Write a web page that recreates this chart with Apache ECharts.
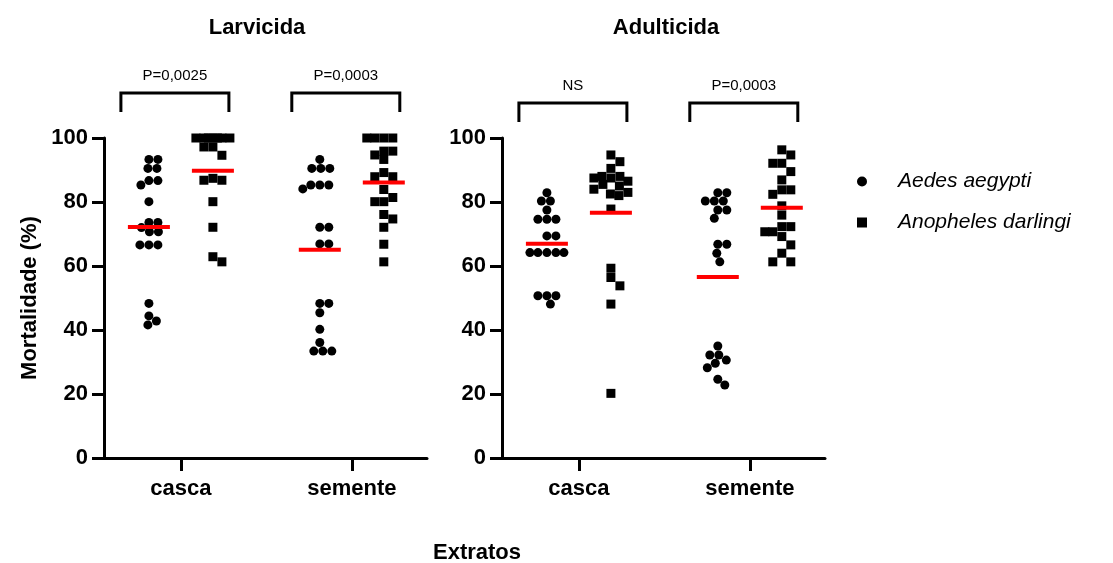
<!DOCTYPE html>
<html><head><meta charset="utf-8">
<script src="https://cdn.jsdelivr.net/npm/echarts@6/dist/echarts.min.js"></script>
<style>html,body{margin:0;padding:0;background:#fff}#c{width:1113px;height:563px}</style>
</head><body><div id="c"></div>
<script>
// ---------- data ----------
const categories = ['casca', 'semente'];
const panelTitles = ['Larvicida', 'Adulticida'];
const speciesNames = ['Aedes aegypti', 'Anopheles darlingi'];
const yAxisName = 'Mortalidade (%)';
const xAxisName = 'Extratos';
const pLabels = [['P=0,0025', 'P=0,0003'], ['NS', 'P=0,0003']];

const larvAedesCasca = [93.3, 93.3, 90.5, 90.5, 86.7, 86.7, 85.3, 80.1, 73.6, 73.6, 72.0, 70.7, 70.7, 66.6, 66.6, 66.6, 48.3, 44.4, 42.8, 41.6];
const larvAnophCasca = [100, 100, 100, 100, 100, 100, 100, 97.2, 97.2, 94.6, 87.4, 86.8, 86.8, 80.1, 72.1, 62.9, 61.3];
const larvAedesSemente = [93.3, 90.5, 90.5, 90.5, 85.3, 85.3, 85.3, 84.1, 72.1, 72.1, 66.9, 66.9, 48.3, 48.3, 45.4, 40.2, 36.1, 33.4, 33.4, 33.4];
const larvAnophSemente = [100, 100, 100, 100, 95.9, 95.9, 94.7, 93.3, 89.2, 87.9, 87.9, 83.9, 81.4, 80.1, 80.1, 76.1, 74.7, 72.1, 66.8, 61.3];
const adulAedesCasca = [82.9, 80.3, 80.3, 77.5, 74.6, 74.6, 74.6, 69.4, 69.4, 64.2, 64.2, 64.2, 64.2, 64.2, 50.7, 50.7, 50.7, 48.1];
const adulAnophCasca = [94.7, 92.6, 90.5, 88, 88, 87.5, 87.5, 86.5, 85.5, 85, 84, 83, 82.5, 82, 77.8, 59.3, 56.4, 53.8, 48.1, 20.2];
const adulAedesSemente = [82.9, 82.9, 80.3, 80.3, 80.3, 77.5, 77.5, 74.9, 66.8, 66.8, 64, 61.3, 35, 32.2, 32.2, 30.6, 29.6, 28.2, 24.6, 22.8];
const adulAnophSemente = [96.3, 94.7, 92.1, 92.1, 89.5, 86.9, 83.8, 83.8, 82.4, 78.8, 75.9, 72.3, 72.3, 70.7, 70.7, 69.2, 66.6, 64, 61.3, 61.3];

// panel -> category -> species
const panelData = [
  [[larvAedesCasca, larvAnophCasca], [larvAedesSemente, larvAnophSemente]],
  [[adulAedesCasca, adulAnophCasca], [adulAedesSemente, adulAnophSemente]]
];

// ---------- layout ----------
const FONT = 'Liberation Sans, Arial, sans-serif';
const GRID_LEFTS = [104, 502], GRID_TOP = 138, GRID_W = 323, GRID_H = 320;
const X_MIN = -0.45, X_MAX = 1.44, Y_MIN = 0, Y_MAX = 100;
const PX_X = GRID_W / (X_MAX - X_MIN), PX_Y = GRID_H / (Y_MAX - Y_MIN);
const GROUP_OFF = 32, SWARM_HALF = 17, SYM = 9, MEAN_W = 42;
const symbols = ['circle', 'rect'];

function swarm(values, square) {
  const order = values.map((v, i) => i).sort((a, b) => values[b] - values[a]);
  const placed = [];
  const offs = new Array(values.length).fill(0);
  for (const i of order) {
    const y = values[i] * PX_Y;
    let near = 0;
    placed.forEach(p => { if (Math.abs(p.y - y) < SYM) near += p.x; });
    let bestFree = null, bestFreeAbs = Infinity;
    let bestAny = 0, bestAnyD = -Infinity;
    for (let c = -SWARM_HALF; c <= SWARM_HALF + 1e-9; c += 0.5) {
      let d = Infinity;
      for (const p of placed) {
        const dx = Math.abs(c - p.x), dy = Math.abs(y - p.y);
        const dd = square ? Math.max(dx, dy) : Math.hypot(dx, dy);
        if (dd < d) d = dd;
      }
      const a = Math.abs(c);
      if (d >= SYM) {
        const better = a < bestFreeAbs - 1e-9 ||
          (Math.abs(a - bestFreeAbs) < 1e-9 && ((near > 0 && c < 0) || (near <= 0 && c > 0)));
        if (better) { bestFree = c; bestFreeAbs = a; }
      }
      if (d > bestAnyD + 1e-9 || (Math.abs(d - bestAnyD) < 1e-9 && a < Math.abs(bestAny))) { bestAnyD = d; bestAny = c; }
    }
    const x = bestFree !== null ? bestFree : bestAny;
    offs[i] = x;
    placed.push({ x, y });
  }
  return offs;
}
const mean = arr => arr.reduce((s, v) => s + v, 0) / arr.length;

const grids = [], xAxes = [], yAxes = [], series = [];
for (let p = 0; p < 2; p++) {
  grids.push({ left: GRID_LEFTS[p], top: GRID_TOP, width: GRID_W, height: GRID_H });
  xAxes.push({
    gridIndex: p, type: 'value', min: X_MIN, max: X_MAX,
    splitLine: { show: false },
    axisLine: { show: true, onZero: false, lineStyle: { color: '#000', width: 3 } },
    axisTick: { show: true, customValues: [0, 1], length: 13, lineStyle: { color: '#000', width: 3 } },
    axisLabel: { show: true, customValues: [0, 1], formatter: v => categories[Math.round(v)],
      fontSize: 22, fontWeight: 'bold', color: '#000', margin: 20, fontFamily: FONT }
  });
  yAxes.push({
    gridIndex: p, type: 'value', min: Y_MIN, max: Y_MAX, interval: 20,
    splitLine: { show: false },
    axisLine: { show: true, onZero: false, lineStyle: { color: '#000', width: 3 } },
    axisTick: { show: true, length: 12, lineStyle: { color: '#000', width: 3 } },
    axisLabel: { fontSize: 22, fontWeight: 'bold', color: '#000', margin: 16, fontFamily: FONT }
  });
  const meanData = [];
  for (let s = 0; s < 2; s++) {
    const sgn = s === 0 ? -1 : 1;
    const data = [];
    for (let c = 0; c < 2; c++) {
      const vals = panelData[p][c][s];
      const offs = swarm(vals, s === 1);
      vals.forEach((v, i) => data.push([c + (sgn * GROUP_OFF + offs[i]) / PX_X, v]));
      meanData.push([c + sgn * GROUP_OFF / PX_X, mean(vals)]);
    }
    series.push({
      name: speciesNames[s], type: 'scatter', xAxisIndex: p, yAxisIndex: p,
      symbol: symbols[s], symbolSize: SYM, data,
      itemStyle: { color: '#000', opacity: 1 }, z: 2, silent: true
    });
  }
  series.push({
    name: 'mean', type: 'scatter', xAxisIndex: p, yAxisIndex: p,
    symbol: 'rect', symbolSize: [MEAN_W, 4], data: meanData,
    itemStyle: { color: '#ff0000', opacity: 1 }, z: 5, silent: true
  });
}

const chart = echarts.init(document.getElementById('c'), null, { renderer: 'canvas' });
chart.setOption({
  animation: false,
  backgroundColor: '#fff',
  grid: grids, xAxis: xAxes, yAxis: yAxes, series,
  legend: {
    data: speciesNames.map((n, i) => ({ name: n, icon: symbols[i] })),
    orient: 'vertical', left: 852, top: 166, itemWidth: 10, itemHeight: 10, itemGap: 20,
    textStyle: { fontSize: 21, fontStyle: 'italic', color: '#000', fontFamily: FONT, padding: [0, 0, 0, 26] },
    selectedMode: false
  }
});

// annotations: titles, axis names, significance brackets
const graphics = [];
const titleX = [257, 666];
for (let p = 0; p < 2; p++) {
  graphics.push({ type: 'text', x: titleX[p], y: 28, style: { text: panelTitles[p], fontSize: 22, fontWeight: 'bold',
    fontFamily: FONT, fill: '#000', textAlign: 'center', textVerticalAlign: 'middle' } });
}
graphics.push({ type: 'text', x: 30, y: 298, rotation: Math.PI / 2, style: { text: yAxisName, fontSize: 22, fontWeight: 'bold',
  fontFamily: FONT, fill: '#000', textAlign: 'center', textVerticalAlign: 'middle' } });
graphics.push({ type: 'text', x: 477, y: 553, style: { text: xAxisName, fontSize: 22, fontWeight: 'bold',
  fontFamily: FONT, fill: '#000', textAlign: 'center', textVerticalAlign: 'middle' } });

const bracketTop = [93, 103], LEG = 19, LEFT_LEG = -60, RIGHT_LEG = 48;
for (let p = 0; p < 2; p++) {
  for (let c = 0; c < 2; c++) {
    const cx = chart.convertToPixel({ xAxisIndex: p }, c);
    const x1 = cx + LEFT_LEG, x2 = cx + RIGHT_LEG, yt = bracketTop[p];
    graphics.push({ type: 'polyline', shape: { points: [[x1, yt + LEG], [x1, yt], [x2, yt], [x2, yt + LEG]] },
      style: { stroke: '#000', lineWidth: 3, fill: null } });
    graphics.push({ type: 'text', x: (x1 + x2) / 2, y: yt - 17, style: { text: pLabels[p][c], fontSize: 15,
      fontFamily: FONT, fill: '#000', textAlign: 'center', textVerticalAlign: 'middle' } });
  }
}
chart.setOption({ graphic: graphics });
</script></body></html>
